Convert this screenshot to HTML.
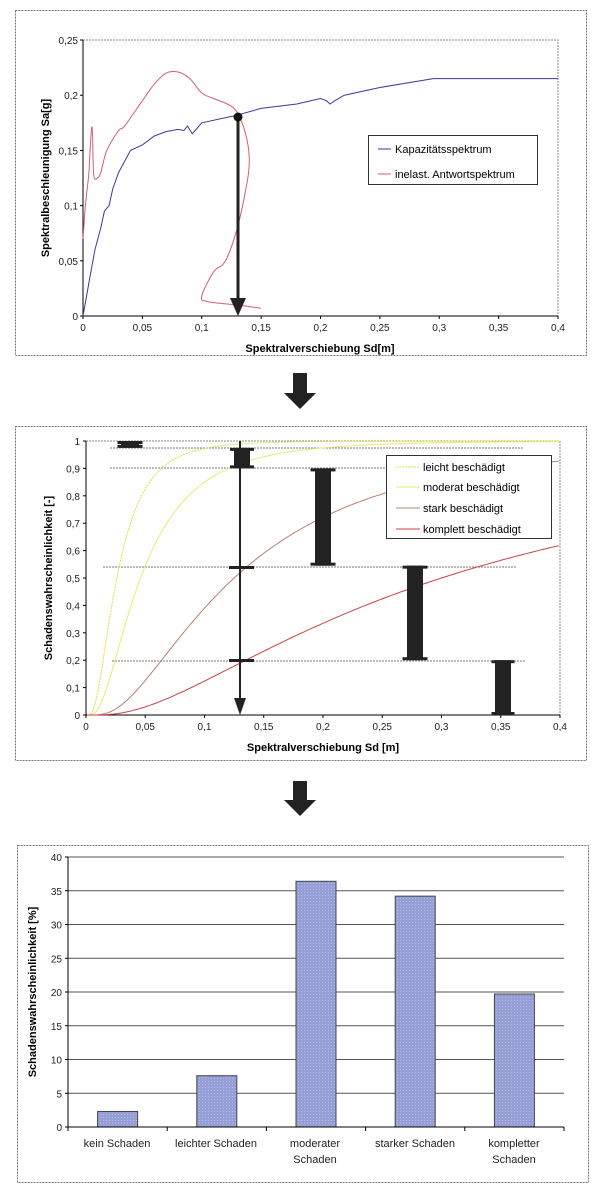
<!DOCTYPE html>
<html><head><meta charset="utf-8"><style>
body{margin:0;background:#fff;width:600px;height:1200px;overflow:hidden}
svg{display:block;font-family:"Liberation Sans",sans-serif}
</style></head><body>
<svg id="s" width="600" height="1200" viewBox="0 0 600 1200">
<defs>
<pattern id="dots" width="3" height="3" patternUnits="userSpaceOnUse"><rect width="3" height="3" fill="#959fd6"/><rect x="1" y="1" width="1" height="1" fill="#b6bce6"/></pattern>
</defs>
<rect x="15.5" y="10.5" width="571" height="345" fill="#fff" stroke="#777" stroke-dasharray="2,1"/>
<rect x="83" y="40" width="475" height="276" fill="#fff" stroke="#888" stroke-dasharray="2,1"/>
<line x1="83" y1="40" x2="83" y2="316" stroke="#000"/>
<line x1="83" y1="316" x2="558" y2="316" stroke="#000"/>
<g id="t1" font-size="10" fill="#222"></g>
<text x="49" y="178" font-size="11" font-weight="bold" text-anchor="middle" transform="rotate(-90 49 178)">Spektralbeschleunigung Sa[g]</text>
<text x="320" y="352" font-size="11" font-weight="bold" text-anchor="middle">Spektralverschiebung Sd[m]</text>
<path id="blue" fill="none" stroke="#3a3a9a" stroke-width="1"/>
<path id="red" fill="none" stroke="#d06070" stroke-width="1"/>
<line x1="238" y1="117" x2="238" y2="300" stroke="#222" stroke-width="3"/>
<polygon points="230,298 246,298 238,316" fill="#222"/>
<circle cx="238" cy="117" r="4.5" fill="#111"/>
<rect x="368.5" y="135.5" width="169" height="49" fill="#fff" stroke="#333"/>
<line x1="378" y1="149" x2="391" y2="149" stroke="#3a3a9a"/>
<text x="395" y="153" font-size="11">Kapazitätsspektrum</text>
<line x1="378" y1="174" x2="391" y2="174" stroke="#d06070"/>
<text x="395" y="178" font-size="11">inelast. Antwortspektrum</text>
<polygon points="293,373 307,373 307,393 316,393 300,409 284,393 293,393" fill="#222"/>
<rect x="15.5" y="426.5" width="571" height="334" fill="#fff" stroke="#777" stroke-dasharray="2,1"/>
<rect x="86" y="441" width="474" height="274" fill="#fff" stroke="#888" stroke-dasharray="2,1"/>
<line x1="86" y1="441" x2="86" y2="715" stroke="#000"/>
<line x1="86" y1="715" x2="560" y2="715" stroke="#000"/>
<g id="t2" font-size="10" fill="#222"></g>
<text x="52" y="578" font-size="11" font-weight="bold" text-anchor="middle" transform="rotate(-90 52 578)">Schadenswahrscheinlichkeit [-]</text>
<text x="323" y="751" font-size="11" font-weight="bold" text-anchor="middle">Spektralverschiebung Sd [m]</text>
<g stroke="#777" stroke-dasharray="2,1">
<line x1="110" y1="448" x2="524" y2="448"/>
<line x1="110" y1="468" x2="524" y2="468"/>
<line x1="103" y1="567" x2="517" y2="567"/>
<line x1="112" y1="661" x2="525" y2="661"/>
</g>
<path id="c1" fill="none" stroke="#e0dc40" stroke-dasharray="2,1"/>
<path id="c2" fill="none" stroke="#eaea70"/>
<path id="c3" fill="none" stroke="#b8806c"/>
<path id="c4" fill="none" stroke="#cc4040"/>
<g id="beams" fill="#222"></g>
<line x1="240" y1="441" x2="240" y2="700" stroke="#222" stroke-width="2"/>
<polygon points="234,698 246,698 240,715" fill="#222"/>
<rect x="229" y="566" width="25" height="3" fill="#222"/>
<rect x="229" y="659" width="25" height="3" fill="#222"/>
<rect x="386.5" y="455.5" width="165" height="83" fill="#fff" stroke="#333"/>
<line x1="396" y1="467" x2="420" y2="467" stroke="#e0dc40" stroke-dasharray="2,1"/>
<text x="423" y="471" font-size="11">leicht beschädigt</text>
<line x1="396" y1="487" x2="420" y2="487" stroke="#eaea70"/>
<text x="423" y="491" font-size="11">moderat beschädigt</text>
<line x1="396" y1="508" x2="420" y2="508" stroke="#b8806c"/>
<text x="423" y="512" font-size="11">stark beschädigt</text>
<line x1="396" y1="529" x2="420" y2="529" stroke="#cc4040"/>
<text x="423" y="533" font-size="11">komplett beschädigt</text>
<polygon points="293,781 307,781 307,800 316,800 300,816 284,800 293,800" fill="#222"/>
<rect x="17.5" y="845.5" width="571" height="337" fill="#fff" stroke="#777" stroke-dasharray="2,1"/>
<g id="t3" font-size="10" fill="#222"></g>
<g id="bars"></g>
<line x1="68" y1="857" x2="68" y2="1127" stroke="#000"/>
<line x1="68" y1="1127" x2="564" y2="1127" stroke="#000"/>
<text x="36" y="992" font-size="11" font-weight="bold" text-anchor="middle" transform="rotate(-90 36 992)">Schadenswahrscheinlichkeit [%]</text>
<g font-size="11" text-anchor="middle" fill="#222">
<text x="117" y="1147">kein Schaden</text>
<text x="216" y="1147">leichter Schaden</text>
<text x="315" y="1147">moderater</text><text x="315" y="1163">Schaden</text>
<text x="415" y="1147">starker Schaden</text>
<text x="514" y="1147">kompletter</text><text x="514" y="1163">Schaden</text>
</g>
</svg>
<script>
var NS="http://www.w3.org/2000/svg";
function el(p,t,a,txt){var e=document.createElementNS(NS,t);for(var k in a)e.setAttribute(k,a[k]);if(txt!=null)e.textContent=txt;p.appendChild(e);return e;}
function fmt(v){return String(+v.toFixed(2)).replace('.',',');}
var t1=document.getElementById('t1');
for(var i=0;i<=5;i++){var y=316-i*55.2;el(t1,'text',{x:78,y:y+4,'text-anchor':'end'},fmt(i*0.05));el(t1,'line',{x1:80,x2:83,y1:y,y2:y,stroke:'#000'});}
for(var i=0;i<=8;i++){var x=83+i*59.375;el(t1,'text',{x:x,y:331,'text-anchor':'middle'},fmt(i*0.05));el(t1,'line',{x1:x,x2:x,y1:316,y2:319,stroke:'#000'});}
function P(pts,fx,fy){return pts.map(function(p,i){return (i?'L':'M')+fx(p[0]).toFixed(1)+','+fy(p[1]).toFixed(1)}).join('');}
function S(pts,fx,fy){var q=pts.map(function(p){return [fx(p[0]),fy(p[1])]});var d='M'+q[0][0].toFixed(1)+','+q[0][1].toFixed(1);
for(var i=0;i<q.length-1;i++){var p0=q[i?i-1:0],p1=q[i],p2=q[i+1],p3=q[i+2<q.length?i+2:i+1];
var c1=[p1[0]+(p2[0]-p0[0])/6,p1[1]+(p2[1]-p0[1])/6],c2=[p2[0]-(p3[0]-p1[0])/6,p2[1]-(p3[1]-p1[1])/6];
d+='C'+c1[0].toFixed(1)+','+c1[1].toFixed(1)+' '+c2[0].toFixed(1)+','+c2[1].toFixed(1)+' '+p2[0].toFixed(1)+','+p2[1].toFixed(1);}return d;}
var X1=function(d){return 83+d*1187.5},Y1=function(a){return 316-a*1104};
var blue=[[0,0],[0.005,0.03],[0.01,0.06],[0.015,0.08],[0.018,0.095],[0.022,0.1],[0.025,0.115],[0.03,0.13],[0.04,0.15],[0.05,0.155],[0.06,0.163],[0.07,0.167],[0.08,0.169],[0.085,0.168],[0.088,0.172],[0.092,0.165],[0.1,0.175],[0.13,0.182],[0.15,0.188],[0.18,0.192],[0.2,0.197],[0.205,0.195],[0.208,0.192],[0.212,0.195],[0.22,0.2],[0.25,0.207],[0.295,0.215],[0.4,0.215]];
var red=[[0,0.07],[0.002,0.1],[0.004,0.12],[0.005,0.13],[0.007,0.168],[0.008,0.165],[0.009,0.128],[0.012,0.125],[0.015,0.13],[0.02,0.15],[0.03,0.168],[0.035,0.172],[0.05,0.195],[0.06,0.21],[0.07,0.22],[0.08,0.221],[0.09,0.215],[0.1,0.202],[0.11,0.197],[0.125,0.19],[0.132,0.18],[0.138,0.16],[0.14,0.14],[0.138,0.12],[0.13,0.08],[0.12,0.05],[0.11,0.04],[0.1,0.018],[0.105,0.013],[0.13,0.01],[0.15,0.007]];
document.getElementById('blue').setAttribute('d',P(blue,X1,Y1));
document.getElementById('red').setAttribute('d',S(red,X1,Y1));
var t2=document.getElementById('t2');
for(var i=0;i<=10;i++){var y=715-i*27.4;el(t2,'text',{x:80,y:y+4,'text-anchor':'end'},fmt(i*0.1));el(t2,'line',{x1:83,x2:86,y1:y,y2:y,stroke:'#000'});}
for(var i=0;i<=8;i++){var x=86+i*59.25;el(t2,'text',{x:x,y:730,'text-anchor':'middle'},fmt(i*0.05));el(t2,'line',{x1:x,x2:x,y1:715,y2:718,stroke:'#000'});}
function erf(x){var s=x<0?-1:1;x=Math.abs(x);var t=1/(1+0.3275911*x);var y=1-(((((1.061405429*t-1.453152027)*t)+1.421413741)*t-0.284496736)*t+0.254829592)*t*Math.exp(-x*x);return s*y;}
function Phi(z){return 0.5*(1+erf(z/Math.SQRT2));}
var X2=function(d){return 86+d*1185},Y2=function(p){return 715-p*274};
[['c1',0.026,0.7],['c2',0.046,0.75],['c3',0.125,0.8],['c4',0.30,0.95]].forEach(function(c){var pts=[];for(var d=0.001;d<=0.4001;d+=0.002){pts.push([d,Phi(Math.log(d/c[1])/c[2])]);}document.getElementById(c[0]).setAttribute('d',P(pts,X2,Y2));});
var bm=document.getElementById('beams');
function beam(cx,p1,p2,fw,ww){var y1=Y2(p1),y2=Y2(p2);el(bm,'rect',{x:cx-fw/2,y:y1,width:fw,height:3});el(bm,'rect',{x:cx-fw/2,y:y2-3,width:fw,height:3});el(bm,'rect',{x:cx-ww/2,y:y1,width:ww,height:y2-y1});}
beam(130,1,0.975,25,18);beam(242,0.975,0.9,24,16);beam(323,0.9,0.545,25,16);beam(415,0.545,0.2,25,16);beam(503,0.2,0,23,16);
var t3=document.getElementById('t3');
for(var i=0;i<=8;i++){var y=1127-i*33.75;if(i>0)el(t3,'line',{x1:68,x2:564,y1:y,y2:y,stroke:'#555'});el(t3,'text',{x:62,y:y+4,'text-anchor':'end'},String(i*5));el(t3,'line',{x1:65,x2:68,y1:y,y2:y,stroke:'#000'});}
for(var i=0;i<=5;i++){var x=68+i*99.2;el(t3,'line',{x1:x,x2:x,y1:1127,y2:1131,stroke:'#000'});}
var bars=document.getElementById('bars');
[2.3,7.6,36.4,34.2,19.7].forEach(function(v,i){var cx=117.6+i*99.2,h=v*6.75;el(bars,'rect',{x:cx-20,y:1127-h,width:40,height:h,fill:'url(#dots)',stroke:'#444','stroke-width':1});});
</script>
</body></html>
